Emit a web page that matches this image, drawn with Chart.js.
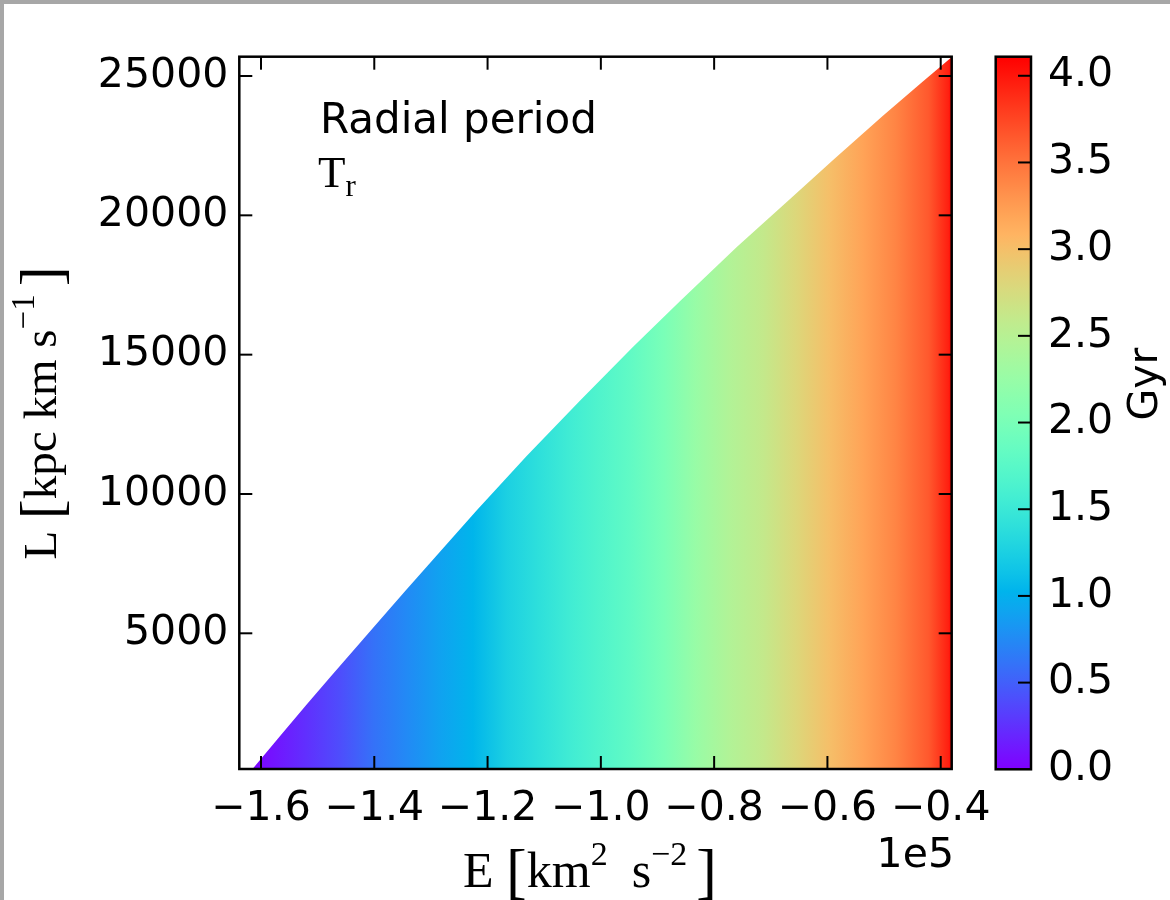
<!DOCTYPE html>
<html>
<head>
<meta charset="utf-8">
<title>Radial period T_r</title>
<script src="https://cdn.jsdelivr.net/npm/chart.js@4.4.1/dist/chart.umd.min.js"></script>
<style>
  html, body { margin: 0; padding: 0; background: #fff; }
  #wrap { position: relative; width: 1170px; height: 900px; overflow: hidden; }
  #mainChart, #barChart { position: absolute; top: 0; }
  #mainChart { left: 0; }
  #barChart { left: 960px; }
  .edge { position: absolute; background: #a7a7a7; }
</style>
</head>
<body>
<div id="wrap">
  <canvas id="mainChart" width="1170" height="900"></canvas>
  <canvas id="barChart" width="210" height="900"></canvas>
  <div class="edge" style="left:0;top:0;width:1170px;height:4px"></div>
  <div class="edge" style="left:0;top:0;width:4px;height:900px"></div>
</div>
<script>
// upper edge of the filled region, L_max(E)  (E in km^2 s^-2, L in kpc km s^-1)
const edgeE = [-161500, -156700, -151900, -147800, -142500, -138700, -134500, -128400, -121900,
               -113100, -103700, -94300, -86000, -76000, -66600, -59000, -50200, -43100, -38400, -38060];
const edgeL = [130, 1300, 2450, 3420, 4660, 5550, 6530, 7930, 9420,
               11360, 13350, 15280, 16930, 18860, 20590, 21990, 23570, 24810, 25620, 25680];

// radial period (Gyr) read along E, it does not change with L
const periodE = [-161500, -157900, -151900, -146100, -140200, -134200, -128400, -122600, -116600,
                 -110800, -104900, -100900, -95000, -89000, -83200, -77400, -71400, -65600,
                 -59700, -53700, -47900, -42100, -38600, -38060];
const periodT = [0.02, 0.10, 0.25, 0.40, 0.60, 0.75, 0.90, 1.03, 1.25,
                 1.40, 1.56, 1.66, 1.80, 2.00, 2.25, 2.45, 2.60, 2.80,
                 3.00, 3.20, 3.40, 3.65, 3.95, 4.11];

const xTicks = [-160000, -140000, -120000, -100000, -80000, -60000, -40000];
const yTicks = [5000, 10000, 15000, 20000, 25000];
const cbTicks = [0, 0.5, 1.0, 1.5, 2.0, 2.5, 3.0, 3.5, 4.0];
const cbMax = 4.11;

const sans = '"DejaVu Sans", sans-serif';
const serif = '"Liberation Serif", "DejaVu Serif", serif';
const tickFont = { family: sans, size: 41 };

// matplotlib "rainbow" colormap
function rainbow(f) {
    f = Math.max(0, Math.min(1, f));
    const r = Math.min(1, Math.abs(2 * f - 0.5));
    const g = Math.sin(Math.PI * f);
    const b = Math.cos(Math.PI * f / 2);
    return 'rgb(' + Math.round(r * 255) + ',' + Math.round(g * 255) + ',' + Math.round(b * 255) + ')';
}

function minus(s) {
    return s.replace('-', '\u2212');
}

// horizontal gradient, colour stops placed with the x scale
function periodFill(context) {
    const chart = context.chart;
    const area = chart.chartArea;
    if (!area) return 'rgba(0,0,0,0)';
    const xs = chart.scales.x;
    const grad = chart.ctx.createLinearGradient(area.left, 0, area.right, 0);
    periodE.forEach((e, i) => {
        let p = (xs.getPixelForValue(e) - area.left) / (area.right - area.left);
        grad.addColorStop(Math.max(0, Math.min(1, p)), rainbow(periodT[i] / cbMax));
    });
    return grad;
}

// vertical gradient for the colour bar
function barFill(context) {
    const chart = context.chart;
    const area = chart.chartArea;
    if (!area) return 'rgba(0,0,0,0)';
    const ys = chart.scales.y;
    const grad = chart.ctx.createLinearGradient(0, ys.getPixelForValue(0), 0, ys.getPixelForValue(cbMax));
    for (let k = 0; k <= 40; k++) {
        grad.addColorStop(k / 40, rainbow(k / 40));
    }
    return grad;
}

// draws pieces of text one after another, pieces may be raised (superscripts)
function drawPieces(ctx, pieces, x, y, align) {
    let total = 0;
    pieces.forEach(p => {
        ctx.font = p.font;
        p.w = ctx.measureText(p.t).width + (p.gap || 0);
        total += p.w;
    });
    let cx = align === 'center' ? x - total / 2 : x;
    pieces.forEach(p => {
        ctx.font = p.font;
        ctx.fillText(p.t, cx, y + (p.dy || 0));
        cx += p.w;
    });
}

function inTick(ctx, x1, y1, x2, y2) {
    ctx.beginPath();
    ctx.moveTo(x1, y1);
    ctx.lineTo(x2, y2);
    ctx.stroke();
}

const frame = {
    id: 'frame',
    afterDraw(chart) {
        const { ctx, chartArea: a, scales: { x, y } } = chart;
        const len = 13;
        ctx.save();
        ctx.strokeStyle = '#000';
        ctx.lineWidth = 2;
        x.ticks.forEach(t => {
            const px = x.getPixelForValue(t.value);
            inTick(ctx, px, a.bottom, px, a.bottom - len);
            inTick(ctx, px, a.top, px, a.top + len);
        });
        y.ticks.forEach(t => {
            const py = y.getPixelForValue(t.value);
            inTick(ctx, a.left, py, a.left + len, py);
            inTick(ctx, a.right, py, a.right - len, py);
        });
        ctx.lineWidth = 2.5;
        ctx.strokeRect(a.left, a.top, a.right - a.left, a.bottom - a.top);

        ctx.fillStyle = '#000';
        ctx.textBaseline = 'alphabetic';
        ctx.textAlign = 'left';
        ctx.font = '42px ' + sans;
        ctx.fillText('Radial period', 320, 133);
        drawPieces(ctx, [
            { t: 'T', font: '45px ' + serif },
            { t: 'r', font: '31px ' + serif, dy: 9 }
        ], 318, 187, 'left');

        // offset text of the E axis
        ctx.font = '41px ' + sans;
        ctx.textAlign = 'right';
        ctx.fillText('1e5', 954, 867);
        ctx.textAlign = 'left';

        // E axis title
        drawPieces(ctx, [
            { t: 'E ', font: '50px ' + serif },
            { t: '[', font: '62px ' + serif, dy: 5 },
            { t: 'km', font: '50px ' + serif },
            { t: '2', font: '34px ' + serif, dy: -22, gap: 24 },
            { t: 's', font: '50px ' + serif },
            { t: '\u22122', font: '34px ' + serif, dy: -22, gap: 9 },
            { t: ']', font: '62px ' + serif, dy: 5 }
        ], 590, 887, 'center');

        // L axis title, rotated
        ctx.save();
        ctx.translate(56, 413);
        ctx.rotate(-Math.PI / 2);
        drawPieces(ctx, [
            { t: 'L ', font: '47px ' + serif },
            { t: '[', font: '60px ' + serif, dy: 5 },
            { t: 'kpc km s', font: '47px ' + serif },
            { t: '\u22121', font: '33px ' + serif, dy: -22, gap: 8 },
            { t: ']', font: '60px ' + serif, dy: 5 }
        ], 0, 0, 'center');
        ctx.restore();
        ctx.restore();
    }
};

const barFrame = {
    id: 'barFrame',
    afterDraw(chart) {
        const { ctx, chartArea: a, scales: { y } } = chart;
        ctx.save();
        ctx.strokeStyle = '#000';
        ctx.lineWidth = 2;
        y.ticks.forEach(t => {
            const py = y.getPixelForValue(t.value);
            if (t.value > 0) inTick(ctx, a.right, py, a.right - 13, py);
        });
        ctx.lineWidth = 2.5;
        ctx.strokeRect(a.left, a.top, a.right - a.left, a.bottom - a.top);
        ctx.fillStyle = '#000';
        ctx.font = '41px ' + sans;
        ctx.textAlign = 'center';
        ctx.textBaseline = 'alphabetic';
        ctx.translate(197, 384);
        ctx.rotate(-Math.PI / 2);
        ctx.fillText('Gyr', 0, 0);
        ctx.restore();
    }
};

new Chart(document.getElementById('mainChart'), {
    type: 'scatter',
    data: {
        datasets: [{
            data: edgeE.map((e, i) => ({ x: e, y: edgeL[i] })),
            showLine: true,
            fill: 'start',
            tension: 0,
            pointRadius: 0,
            borderWidth: 0,
            borderColor: 'rgba(0,0,0,0)',
            backgroundColor: periodFill
        }]
    },
    options: {
        responsive: false,
        animation: false,
        devicePixelRatio: 1,
        layout: { padding: { top: 56.7, right: 218.3, bottom: 0, left: 0 } },
        plugins: { legend: { display: false }, tooltip: { enabled: false } },
        scales: {
            x: {
                type: 'linear',
                min: -163830,
                max: -38060,
                grid: { display: false, drawTicks: false },
                border: { display: false },
                ticks: {
                    font: tickFont,
                    color: '#000',
                    padding: 16,
                    maxRotation: 0,
                    callback: v => minus((v / 1e5).toFixed(1))
                },
                afterBuildTicks: s => { s.ticks = xTicks.map(v => ({ value: v })); },
                afterFit: s => { s.height = 131; }
            },
            y: {
                type: 'linear',
                min: 130,
                max: 25693,
                grid: { display: false, drawTicks: false },
                border: { display: false },
                ticks: {
                    font: tickFont,
                    color: '#000',
                    padding: 11,
                    callback: v => String(v)
                },
                afterBuildTicks: s => { s.ticks = yTicks.map(v => ({ value: v })); },
                afterFit: s => { s.width = 239.3; }
            }
        }
    },
    plugins: [frame]
});

new Chart(document.getElementById('barChart'), {
    type: 'bar',
    data: {
        labels: ['Gyr'],
        datasets: [{
            data: [[0, cbMax]],
            backgroundColor: barFill,
            borderWidth: 0,
            barPercentage: 1,
            categoryPercentage: 1
        }]
    },
    options: {
        responsive: false,
        animation: false,
        devicePixelRatio: 1,
        layout: { padding: { top: 56.7, right: 0, bottom: 130.7, left: 35.7 } },
        plugins: { legend: { display: false }, tooltip: { enabled: false } },
        scales: {
            x: { display: false },
            y: {
                position: 'right',
                min: 0,
                max: cbMax,
                grid: { display: false, drawTicks: false },
                border: { display: false },
                ticks: {
                    font: tickFont,
                    color: '#000',
                    padding: 17,
                    callback: v => v.toFixed(1)
                },
                afterBuildTicks: s => { s.ticks = cbTicks.map(v => ({ value: v })); },
                afterFit: s => { s.width = 139; }
            }
        }
    },
    plugins: [barFrame]
});
</script>
</body>
</html>
